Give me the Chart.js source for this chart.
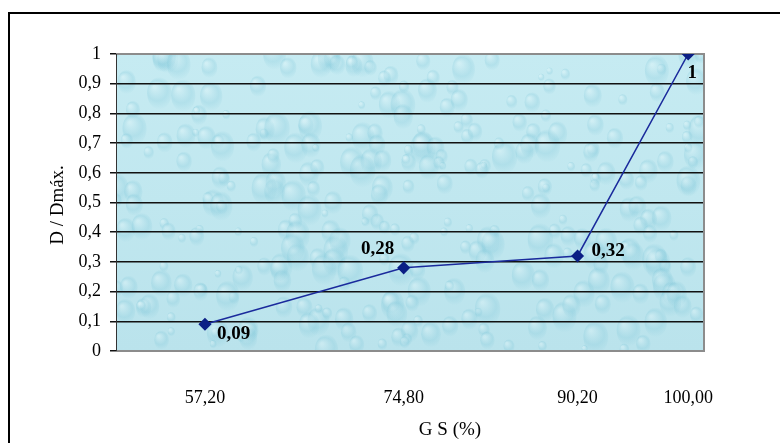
<!DOCTYPE html>
<html>
<head>
<meta charset="utf-8">
<script src="https://cdn.jsdelivr.net/npm/chart.js@4.4.0/dist/chart.umd.min.js"></script>
<style>
  html, body { margin: 0; padding: 0; background: #fff; overflow: hidden; }
  #wrap { position: relative; width: 780px; height: 443px; }
  #frame { position: absolute; left: 8px; top: 12px; width: 800px; height: 460px; border: 2px solid #000; box-sizing: border-box; }
  canvas { position: absolute; left: 0; top: 0; }
</style>
</head>
<body>
<div id="wrap">
  <div id="frame"></div>
  <canvas id="chart" width="780" height="443"></canvas>
</div>
<script>
// data
const gsValues = [57.2, 74.8, 90.2, 100.0];
const ratioValues = [0.09, 0.28, 0.32, 1];
const pointLabels = ['0,09', '0,28', '0,32', '1'];
const xTickLabels = ['57,20', '74,80', '90,20', '100,00'];
const yTickLabels = ['0', '0,1', '0,2', '0,3', '0,4', '0,5', '0,6', '0,7', '0,8', '0,9', '1'];

const serif = "'Liberation Serif', 'Times New Roman', serif";

// where each value label sits relative to its point
const labelOffsets = [
  { dx: 12, dy: 10, align: 'left' },
  { dx: -26, dy: -19, align: 'center' },
  { dx: 14, dy: -5, align: 'left' },
  { dx: 4, dy: 19, align: 'center' }
];

function drawDrops(ctx, a) {
  ctx.save();
  ctx.beginPath();
  ctx.rect(a.left, a.top, a.width, a.height);
  ctx.clip();
  const g = ctx.createLinearGradient(0, a.top, 0, a.bottom);
  g.addColorStop(0, '#c6ebf2');
  g.addColorStop(1, '#bae3ec');
  ctx.fillStyle = g;
  ctx.fillRect(a.left, a.top, a.width, a.height);
  // soft drop-like spots for the texture
  for (let i = 0; i < 320; i++) {
    const h1 = Math.sin(i * 12.9898) * 43758.5453;
    const h2 = Math.sin(i * 78.233) * 12345.6789;
    const h3 = Math.sin(i * 39.425) * 24634.6345;
    const fx = h1 - Math.floor(h1);
    const fy = h2 - Math.floor(h2);
    const fr = h3 - Math.floor(h3);
    const x = a.left + fx * a.width;
    const y = a.top + fy * a.height;
    const r = 4 + fr * 13;
    const rg = ctx.createRadialGradient(x - r * 0.3, y - r * 0.4, 1, x, y, r);
    rg.addColorStop(0, 'rgba(235,250,252,0.3)');
    rg.addColorStop(0.6, 'rgba(130,200,218,0.28)');
    rg.addColorStop(1, 'rgba(130,200,218,0)');
    ctx.fillStyle = rg;
    ctx.beginPath();
    ctx.ellipse(x, y, r * 0.75, r, 0, 0, Math.PI * 2);
    ctx.fill();
  }
  ctx.restore();
}

const decorPlugin = {
  id: 'decor',
  beforeDraw(chart) {
    drawDrops(chart.ctx, chart.chartArea);
  },
  beforeDatasetsDraw(chart) {
    const ctx = chart.ctx;
    const a = chart.chartArea;
    ctx.save();
    ctx.strokeStyle = '#8c8c8c';
    ctx.lineWidth = 2;
    ctx.beginPath();
    ctx.moveTo(a.left, a.top);
    ctx.lineTo(a.right, a.top);
    ctx.lineTo(a.right, a.bottom);
    ctx.lineTo(a.left, a.bottom);
    ctx.stroke();
    ctx.strokeStyle = '#333';
    ctx.lineWidth = 1;
    ctx.beginPath();
    ctx.moveTo(a.left + 0.5, a.top);
    ctx.lineTo(a.left + 0.5, a.bottom);
    ctx.stroke();
    ctx.restore();
  },
  afterDatasetsDraw(chart) {
    const ctx = chart.ctx;
    const meta = chart.getDatasetMeta(0);
    ctx.save();
    ctx.fillStyle = '#000';
    ctx.font = 'bold 19px ' + serif;
    ctx.textBaseline = 'middle';
    meta.data.forEach((pt, i) => {
      const o = labelOffsets[i];
      ctx.textAlign = o.align;
      ctx.fillText(pointLabels[i], pt.x + o.dx, pt.y + o.dy);
    });
    ctx.restore();
  },
  afterDraw(chart) {
    const ctx = chart.ctx;
    ctx.save();
    ctx.fillStyle = '#000';
    ctx.font = '19px ' + serif;
    ctx.textAlign = 'center';
    ctx.textBaseline = 'middle';
    ctx.fillText('G S (%)', 450, 430);
    ctx.translate(58, 205);
    ctx.rotate(-Math.PI / 2);
    ctx.fillText('D / Dmáx.', 0, 0);
    ctx.restore();
  }
};

new Chart(document.getElementById('chart'), {
  type: 'line',
  data: {
    datasets: [{
      label: 'D / Dmáx.',
      data: gsValues.map((x, i) => ({ x: x, y: ratioValues[i] })),
      borderColor: '#1a2a9c',
      borderWidth: 1.5,
      tension: 0,
      pointStyle: 'rectRot',
      pointRadius: 5.5,
      pointBackgroundColor: '#0b1f85',
      pointBorderColor: '#0b1f85',
      fill: false
    }]
  },
  options: {
    responsive: false,
    animation: false,
    layout: { padding: { top: 54, right: 76, left: 0, bottom: 0 } },
    plugins: {
      legend: { display: false },
      tooltip: { enabled: false }
    },
    scales: {
      x: {
        type: 'linear',
        min: 49.32,
        max: 101.4,
        afterBuildTicks(scale) {
          scale.ticks = gsValues.map(v => ({ value: v }));
        },
        afterFit(scale) { scale.height = 92; },
        grid: { display: false },
        border: { display: false },
        ticks: {
          padding: 28,
          color: '#000',
          font: { family: serif, size: 18 },
          maxRotation: 0,
          autoSkip: false,
          callback: (v, i) => xTickLabels[i]
        }
      },
      y: {
        min: 0,
        max: 1,
        afterFit(scale) { scale.width = 116; },
        grid: {
          color: ctx => (ctx.tick && (ctx.tick.value === 0 || ctx.tick.value === 1)) ? 'rgba(0,0,0,0)' : '#111',
          tickColor: '#111',
          lineWidth: 1.5,
          tickLength: 6
        },
        border: { display: false },
        ticks: {
          stepSize: 0.1,
          padding: 9,
          color: '#000',
          font: { family: serif, size: 18 },
          callback: (v, i) => yTickLabels[i]
        }
      }
    }
  },
  plugins: [decorPlugin]
});
</script>
</body>
</html>
